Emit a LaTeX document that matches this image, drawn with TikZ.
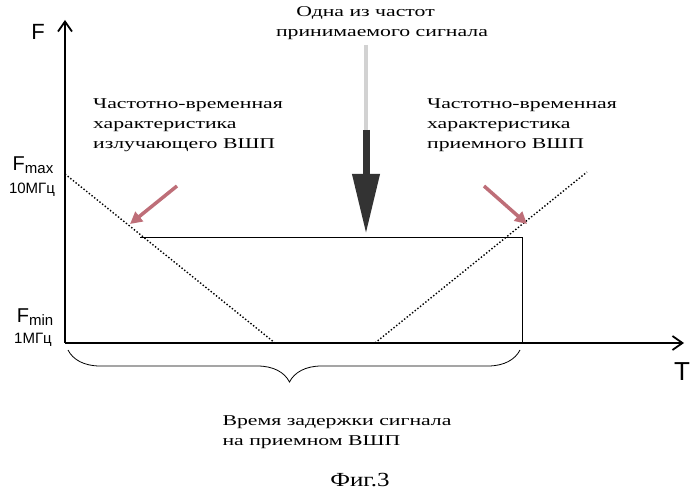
\documentclass[tikz,border=0pt]{standalone}
\usepackage{fontspec}
\setmainfont{Liberation Serif}
\newfontfamily\axfont{Liberation Sans}
\usetikzlibrary{arrows.meta,decorations.pathreplacing}
\definecolor{pinkarr}{RGB}{190,110,120}
\tikzset{axis/.style={line width=1.8pt,-{Straight Barb[length=10pt,width=14pt]}},
dotl/.style={dotted,line width=1.4pt},
thin/.style={line width=0.8pt},
lbl/.style={font=\fontsize{15}{20}\selectfont,align=left,xscale=1.45,transform shape},
pinka/.style={line width=3.5pt,pinkarr,-{Triangle[length=12pt,width=12pt]}}}
\begin{document}
\begin{tikzpicture}[x=1pt,y=-1pt]
\useasboundingbox (0,0) rectangle (699,494);
\coordinate (O) at (65,343);
\coordinate (Ytop) at (65,20);
\coordinate (Xend) at (684,343);
\draw[axis] (O) -- (Ytop);
\draw[axis] (O) -- (Xend);
\node[font=\axfont\fontsize{22}{22}\selectfont] (F) at (38,32) {F};
\node[font=\axfont\fontsize{26}{26}\selectfont] (T) at (682,372) {T};
\node[font=\axfont\fontsize{20}{20}\selectfont] (fmax) at (33,165) {F\raisebox{-3pt}{\fontsize{15}{15}\selectfont max}};
\node[font=\axfont\fontsize{15}{15}\selectfont] (f10) at (32,190) {10МГц};
\node[font=\axfont\fontsize{20}{20}\selectfont] (fmin) at (35,317) {F\raisebox{-3pt}{\fontsize{15}{15}\selectfont min}};
\node[font=\axfont\fontsize{15}{15}\selectfont] (f1) at (33,340) {1МГц};
\coordinate (d1a) at (65,174); \coordinate (d1b) at (275,343);
\coordinate (d2a) at (375,343); \coordinate (d2b) at (587,172);
\draw[dotl] (d1a) -- (d1b);
\draw[dotl] (d2a) -- (d2b);
\coordinate (h1) at (140,237); \coordinate (h2) at (522,237); \coordinate (v2) at (522,343);
\draw[thin] (h1) -- (h2) -- (v2);
\draw[thin,decorate,decoration={brace,mirror,amplitude=32pt,aspect=0.49}] (68,350) -- (520,350);
\node[lbl] (tz) at (337,432) {Время задержки сигнала\\на приемном ВШП};
\node[font=\fontsize{20}{20}\selectfont,xscale=1.25,transform shape] (fig) at (360,480) {Фиг.3};
\node[lbl,anchor=north] (top) at (382,3) {\hspace*{14pt}Одна из частот\\принимаемого сигнала};
\coordinate (a0) at (366,45); \coordinate (a1) at (366,130); \coordinate (a2) at (366,234);
\draw[line width=4pt,gray!35] (a0) -- (a1);
\draw[line width=7pt,black!80,-{Triangle[length=60pt,width=26pt]}] (a1) -- (a2);
\node[lbl,anchor=north west] (L) at (88,95) {Частотно-временная\\характеристика\\излучающего ВШП};
\node[lbl,anchor=north west] (R) at (422,95) {Частотно-временная\\характеристика\\приемного ВШП};
\coordinate (p1) at (177,186); \coordinate (p2) at (130,224);
\coordinate (q1) at (484,186); \coordinate (q2) at (527,224);
\draw[pinka] (p1) -- (p2);
\draw[pinka] (q1) -- (q2);
\end{tikzpicture}
\end{document}
